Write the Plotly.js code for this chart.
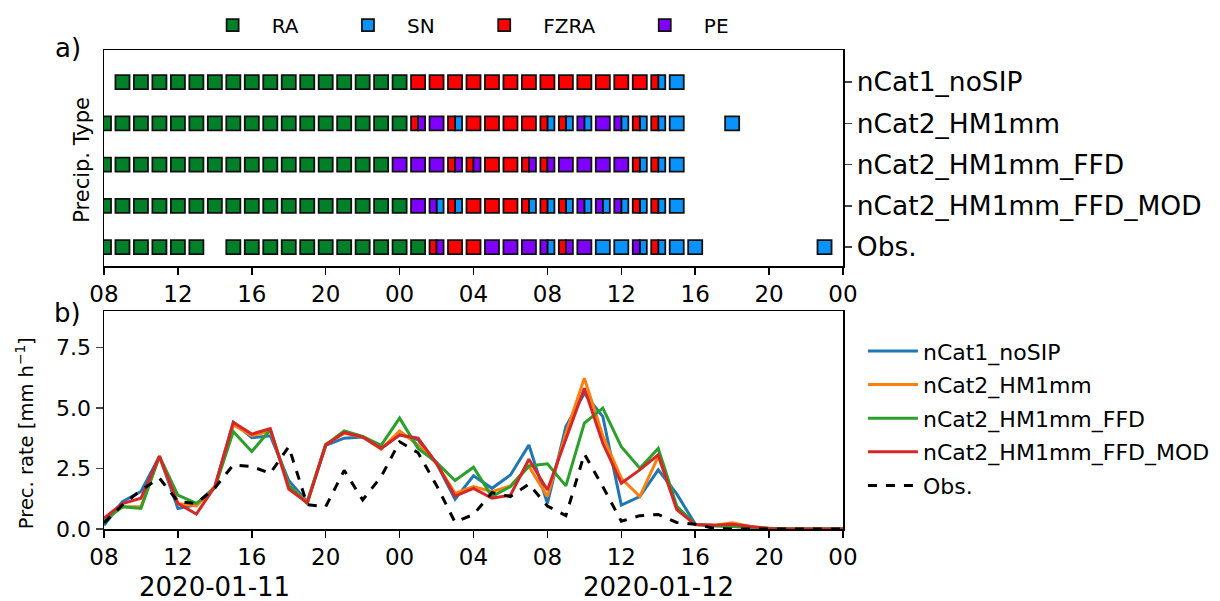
<!DOCTYPE html>
<html><head><meta charset="utf-8">
<script src="https://cdn.plot.ly/plotly-3.0.1.min.js"></script>
<style>body{margin:0;background:#fff;}</style>
</head><body><div id="chart" style="width:1220px;height:601px;"></div>
<script>
const hours = ['2020-01-11 08:00','2020-01-11 09:00','2020-01-11 10:00','2020-01-11 11:00','2020-01-11 12:00','2020-01-11 13:00','2020-01-11 14:00','2020-01-11 15:00','2020-01-11 16:00','2020-01-11 17:00','2020-01-11 18:00','2020-01-11 19:00','2020-01-11 20:00','2020-01-11 21:00','2020-01-11 22:00','2020-01-11 23:00','2020-01-12 00:00','2020-01-12 01:00','2020-01-12 02:00','2020-01-12 03:00','2020-01-12 04:00','2020-01-12 05:00','2020-01-12 06:00','2020-01-12 07:00','2020-01-12 08:00','2020-01-12 09:00','2020-01-12 10:00','2020-01-12 11:00','2020-01-12 12:00','2020-01-12 13:00','2020-01-12 14:00','2020-01-12 15:00','2020-01-12 16:00','2020-01-12 17:00','2020-01-12 18:00','2020-01-12 19:00','2020-01-12 20:00','2020-01-12 21:00','2020-01-12 22:00','2020-01-12 23:00','2020-01-13 00:00'];

// Precipitation type rows (bottom to top)
const rowNames = ['Obs.','nCat2_HM1mm_FFD_MOD','nCat2_HM1mm_FFD','nCat2_HM1mm','nCat1_noSIP'];
const ptObs = ['RA','RA','RA','RA','RA','RA','','RA','RA','RA','RA','RA','RA','RA','RA','RA','RA','RA','FZRA|PE','FZRA','FZRA','PE','PE','PE','PE|SN','FZRA|PE','PE','SN','SN','PE|SN','FZRA|SN','SN','SN','','','','','','','SN',''];
const ptMOD = ['RA','RA','RA','RA','RA','RA','RA','RA','RA','RA','RA','RA','RA','RA','RA','RA','RA','PE','PE|SN','FZRA|SN','FZRA','FZRA','FZRA','FZRA|SN','FZRA|SN','FZRA|SN','PE|SN','PE|SN','PE|SN','FZRA|SN','FZRA|SN','SN','','','','','','','','',''];
const ptFFD = ['RA','RA','RA','RA','RA','RA','RA','RA','RA','RA','RA','RA','RA','RA','RA','RA','PE','PE','PE','FZRA|PE','FZRA|PE','FZRA','FZRA','FZRA|PE','FZRA|PE','PE','PE','PE','PE','FZRA|SN','FZRA|SN','SN','','','','','','','','',''];
const ptHM1 = ['RA','RA','RA','RA','RA','RA','RA','RA','RA','RA','RA','RA','RA','RA','RA','RA','RA','FZRA|PE','PE','FZRA|SN','FZRA','FZRA','FZRA','FZRA','FZRA|SN','FZRA|SN','PE|SN','PE','PE|SN','FZRA|SN','FZRA|SN','SN','','','SN','','','','','',''];
const ptNoSIP = ['','RA','RA','RA','RA','RA','RA','RA','RA','RA','RA','RA','RA','RA','RA','RA','RA','FZRA','FZRA','FZRA','FZRA','FZRA','FZRA','FZRA','FZRA','FZRA','FZRA','FZRA','FZRA','FZRA','FZRA|SN','SN','','','','','','','','',''];
const typeRows = [ptObs, ptMOD, ptFFD, ptHM1, ptNoSIP];

const ptTypes = ['RA','SN','FZRA','PE'];
const ptColors = {RA:'#008028', SN:'#0a93ff', FZRA:'#ff0000', PE:'#8000ff'};

// Precipitation rate [mm/h]
const rNoSIP = [0.15,1.13,1.55,3.0,0.85,1.0,1.75,4.4,3.77,3.85,2.0,1.13,3.45,3.75,3.8,3.33,3.9,3.68,2.71,1.23,2.2,1.68,2.23,3.47,1.06,4.23,5.6,4.64,0.99,1.34,2.44,1.45,0.2,0.15,0.1,0.07,0.02,0,0,0,0];
const rHM1 = [0.35,0.92,0.92,3.0,1.05,0.95,1.75,4.3,3.85,4.05,1.8,1.1,3.5,3.95,3.8,3.3,4.05,3.47,2.71,1.47,1.75,1.54,1.78,2.58,1.34,3.95,6.23,3.85,2.09,1.34,2.99,0.9,0.18,0.15,0.26,0.1,0.02,0,0,0,0];
const rFFD = [0.35,0.92,0.85,3.0,1.4,1.06,1.7,4.02,3.2,4.1,1.8,1.05,3.47,4.05,3.82,3.45,4.58,3.33,2.75,2.0,2.55,1.34,1.75,2.6,2.69,1.78,4.37,4.99,3.4,2.51,3.33,0.95,0.18,0.12,0.1,0.07,0.02,0,0,0,0];
const rMOD = [0.45,1.05,1.27,3.0,1.05,0.62,1.75,4.4,3.92,4.15,1.65,1.08,3.47,3.98,3.8,3.33,3.88,3.75,2.71,1.36,1.68,1.27,1.4,2.88,1.61,3.75,5.81,3.54,1.89,2.44,3.06,0.8,0.18,0.15,0.2,0.1,0.02,0,0,0,0];
const rObs = [0.25,1.0,1.6,2.1,1.13,1.05,1.7,2.65,2.58,2.3,3.4,1.0,0.92,2.42,1.2,2.16,3.6,3.15,1.8,0.28,0.6,1.5,1.34,1.85,0.95,0.55,3.1,1.75,0.32,0.55,0.6,0.27,0.2,0.03,0,0,0,0,0,0,0];

const lineNames = ['nCat1_noSIP','nCat2_HM1mm','nCat2_HM1mm_FFD','nCat2_HM1mm_FFD_MOD'];
const lineColors = ['#1f77b4','#ff7f0e','#2ca02c','#d62728'];
const lineData = [rNoSIP, rHM1, rFFD, rMOD];

const W = 0.76*3600000; // square width (ms)
const H = 0.34;         // square height (row units)
const NB = '\u00a0';

const traces = [];
ptTypes.forEach(t => {
  const x=[], y=[], base=[], off=[], wid=[];
  typeRows.forEach((row, r) => {
    row.forEach((cell, h) => {
      if (!cell) return;
      const parts = cell.split('|');
      const idx = parts.indexOf(t);
      if (idx < 0) return;
      x.push(hours[h]); y.push(H); base.push(r - H/2);
      if (parts.length === 1) { off.push(-W/2); wid.push(W); }
      else if (idx === 0) { off.push(-W/2); wid.push(W/2); }
      else { off.push(0); wid.push(W/2); }
    });
  });
  traces.push({type:'bar', name:NB.repeat(3) + t + NB.repeat(7), x:x, y:y, base:base, offset:off, width:wid,
    xaxis:'x', yaxis:'y', legend:'legend2',
    marker:{color:ptColors[t], line:{color:'#111', width:1.8}}, hoverinfo:'skip'});
});
lineData.forEach((d,i) => {
  traces.push({type:'scatter', mode:'lines', name:lineNames[i], x:hours, y:d, legendgroup:'g'+i,
    xaxis:'x2', yaxis:'y2', line:{color:lineColors[i], width:3}});
});
traces.push({type:'scatter', mode:'lines', name:'Obs.', x:hours, y:rObs, legendgroup:'g4',
  xaxis:'x2', yaxis:'y2', line:{color:'black', width:3, dash:'dash'}});

const xcommon = {type:'date', range:['2020-01-11 08:00','2020-01-13 00:00'], tickformat:'%H',
  tick0:'2020-01-11 00:00', dtick:4*3600000, ticks:'outside', ticklen:7, tickwidth:1.5, tickcolor:'black',
  showline:true, linecolor:'black', linewidth:1.5, mirror:true, showgrid:false, zeroline:false,
  tickfont:{size:23, color:'black'}};

const layout = {
  width:1220, height:601,
  margin:{l:104, r:377, t:50, b:72, autoexpand:false},
  paper_bgcolor:'white', plot_bgcolor:'white',
  font:{family:'DejaVu Sans', color:'black'},
  barmode:'overlay',
  showlegend:true,
  xaxis:Object.assign({}, xcommon, {anchor:'y'}),
  yaxis:{domain:[0.549,1], range:[-0.46,4.78], side:'right', tickvals:[0,1,2,3,4], ticktext:rowNames,
    ticks:'outside', ticklen:7, tickwidth:1.5, showline:true, linecolor:'black', linewidth:1.5, mirror:true,
    showgrid:false, zeroline:false, tickfont:{size:26.5, color:'black'}, anchor:'x'},
  xaxis2:Object.assign({}, xcommon, {anchor:'y2'}),
  yaxis2:{domain:[0,0.455], range:[0,9], tickvals:[0,2.5,5,7.5], ticktext:['0.0','2.5','5.0','7.5'],
    ticks:'outside', ticklen:7, tickwidth:1.5, showline:true, linecolor:'black', linewidth:1.5, mirror:true,
    showgrid:false, zeroline:false, tickfont:{size:22, color:'black'}, anchor:'x2'},
  legend:{x:1.027, y:0.415, xanchor:'left', yanchor:'top', font:{size:22, color:'black'}, bgcolor:'rgba(0,0,0,0)', itemwidth:50, tracegroupgap:2},
  legend2:{orientation:'h', x:0.147, y:1.052, xanchor:'left', yanchor:'middle', font:{size:20, color:'black'}, bgcolor:'rgba(0,0,0,0)'},
  annotations:[
    {text:'a)', xref:'paper', yref:'paper', x:-0.049, y:1.004, xanchor:'center', yanchor:'middle', showarrow:false, font:{size:26}},
    {text:'b)', xref:'paper', yref:'paper', x:-0.049, y:0.451, xanchor:'center', yanchor:'middle', showarrow:false, font:{size:26}},
    {text:'Precip. Type', xref:'paper', yref:'paper', x:-0.029, y:0.77, xanchor:'center', yanchor:'middle', textangle:-90, showarrow:false, font:{size:21}},
    {text:'Prec. rate [mm h<sup>−1</sup>]', xref:'paper', yref:'paper', x:-0.107, y:0.2, xanchor:'center', yanchor:'middle', textangle:-90, showarrow:false, font:{size:19.5}},
    {text:'2020-01-11', xref:'x2', yref:'paper', x:'2020-01-11 14:00', y:-0.121, xanchor:'center', yanchor:'middle', showarrow:false, font:{size:26}},
    {text:'2020-01-12', xref:'x2', yref:'paper', x:'2020-01-12 14:00', y:-0.121, xanchor:'center', yanchor:'middle', showarrow:false, font:{size:26}}
  ]
};
Plotly.newPlot('chart', traces, layout, {displayModeBar:false, staticPlot:true});
</script></body></html>
